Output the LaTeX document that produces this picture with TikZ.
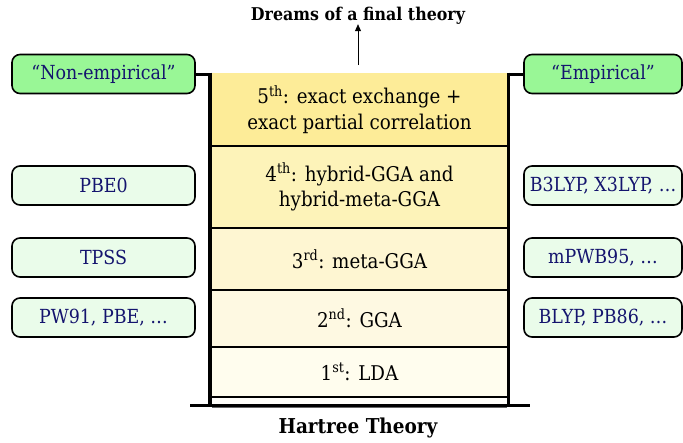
\documentclass[tikz,border=0pt]{standalone}
\usepackage{fontspec}
\setmainfont{DejaVu Serif Condensed}
\usetikzlibrary{arrows.meta}
\definecolor{navy}{RGB}{20,20,110}
\definecolor{gdark}{RGB}{153,247,150}
\definecolor{glight}{RGB}{234,252,234}
\definecolor{cfive}{RGB}{253,236,152}
\definecolor{cfour}{RGB}{253,243,185}
\definecolor{cthree}{RGB}{254,246,210}
\definecolor{ctwo}{RGB}{254,249,226}
\definecolor{cone}{RGB}{255,253,238}
\definecolor{czero}{RGB}{255,254,250}
\tikzset{
  sidebox/.style={draw=black, line width=1.6pt, rounded corners=8pt, text=navy, font=\fontsize{19.4}{23}\selectfont, minimum height=39pt, inner sep=0pt},
  leftbox/.style={sidebox, minimum width=183pt},
  rightbox/.style={sidebox, minimum width=158pt},
  rung/.style={minimum width=295pt, inner sep=0pt, align=center, font=\fontsize{20.3}{25.5}\selectfont},
  rail/.style={line width=3.5pt},
  rungline/.style={line width=2pt},
  link/.style={line width=3pt}
}
\begin{document}
\begin{tikzpicture}[x=1pt,y=-1pt]
\useasboundingbox (0,0) rectangle (683,442);
% rungs
\node[rung, fill=cfive, minimum height=73pt] (r5) at (359.5,109.5) {5\textsuperscript{th}: exact exchange +\\exact partial correlation};
\node[rung, fill=cfour, minimum height=82pt] (r4) at (359.5,187) {4\textsuperscript{th}: hybrid-GGA and\\hybrid-meta-GGA};
\node[rung, fill=cthree, minimum height=62pt] (r3) at (359.5,259) {3\textsuperscript{rd}: meta-GGA};
\node[rung, fill=ctwo, minimum height=57pt] (r2) at (359.5,318.5) {2\textsuperscript{nd}: GGA};
\node[rung, fill=cone, minimum height=50pt] (r1) at (359.5,372) {1\textsuperscript{st}: LDA};
\node[rung, fill=czero, minimum height=8pt] (r0) at (359.5,401) {};
% rung lines
\draw[rungline] (r5.south west) -- (r5.south east);
\draw[rungline] (r4.south west) -- (r4.south east);
\draw[rungline] (r3.south west) -- (r3.south east);
\draw[rungline] (r2.south west) -- (r2.south east);
\draw[rungline] (r1.south west) -- (r1.south east);
\draw[line width=0.6pt, black!60] ([yshift=-2pt]r0.south west) -- ([yshift=-2pt]r0.south east);
% rails
\coordinate (lt) at (210,72.5);
\coordinate (lb) at (210,405);
\coordinate (rt) at (508.5,72.5);
\coordinate (rb) at (508.5,405);
\draw[rail] (lt) -- (lb);
\draw[rail] (rt) -- (rb);
\coordinate (gl) at (190,405);
\coordinate (gr) at (530,405);
\draw[line width=3pt] (gl) -- (gr);
% headings
\node[font=\bfseries\fontsize{17.6}{20}\selectfont] (title) at (358,16) {Dreams of a final theory};
\coordinate (arrowfoot) at (358,65);
\draw[-{Triangle[length=7pt,width=6pt]}, line width=0.8pt] (arrowfoot) -- ([yshift=4pt]title.south);
\node[font=\bfseries\fontsize{20.5}{23}\selectfont] (hartree) at (358,428) {Hartree Theory};
% side boxes
\node[leftbox, fill=gdark] (ne) at (103.5,74) {\char"201C Non-empirical\char"201D};
\node[leftbox, fill=glight] (pbe0) at (103.5,185.5) {PBE0};
\node[leftbox, fill=glight] (tpss) at (103.5,257.5) {TPSS};
\node[leftbox, fill=glight] (pw91) at (103.5,317.5) {PW91, PBE, \dots};
\node[rightbox, fill=gdark] (em) at (603,74) {\char"201C Empirical\char"201D};
\node[rightbox, fill=glight] (b3lyp) at (603,185.5) {B3LYP, X3LYP, \dots};
\node[rightbox, fill=glight] (mpwb) at (603,257.5) {mPWB95, \dots};
\node[rightbox, fill=glight] (blyp) at (603,317.5) {BLYP, PB86, \dots};
% links
\coordinate (lj) at (210,74);
\coordinate (rj) at (508.5,74);
\draw[link] (ne.east) -- ([xshift=1.5pt]lj);
\draw[link] (em.west) -- ([xshift=-1.5pt]rj);
\end{tikzpicture}
\end{document}
